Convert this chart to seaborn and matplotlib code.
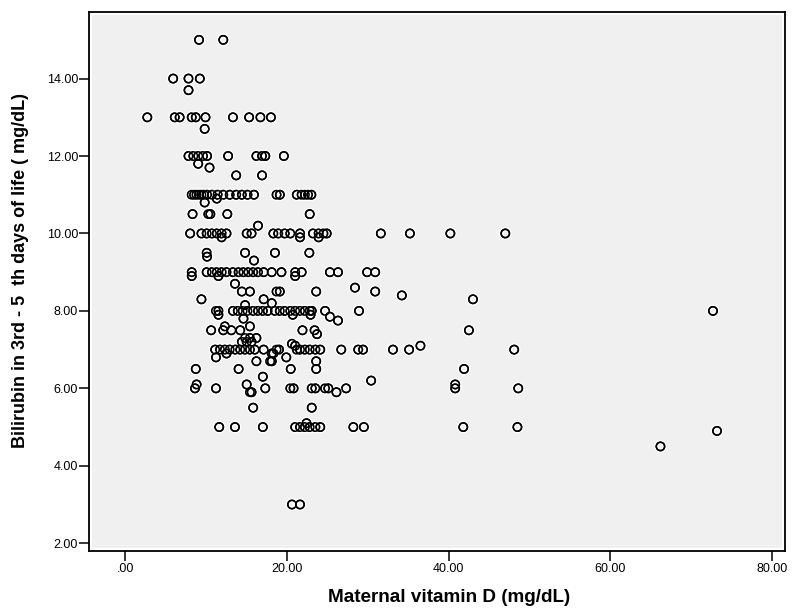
import matplotlib
matplotlib.use("Agg")
import matplotlib.pyplot as plt
import matplotlib.patheffects as pe
from matplotlib.patches import Rectangle
from matplotlib import font_manager
import pandas as pd
import seaborn as sns

# valori: vitamina D materna (x) e bilirubina (y)
vit_d = [
    9.1, 12.1,
    5.9, 7.8, 9.2, 7.8,
    2.7, 6.1, 6.7, 8.2, 8.7, 9.9, 13.3, 15.3, 16.7, 18.0, 9.8,
    7.8, 8.4, 9.0, 9.6, 10.1, 12.7, 16.2, 16.9, 17.3, 19.6,
    9.0, 10.4, 13.7, 16.9,
    8.2, 8.5, 8.8, 9.1, 9.4, 9.7, 10.1, 10.7, 11.4, 12.1, 12.9, 13.7, 14.4, 15.1, 15.9,
    18.7, 19.1, 21.2, 21.8, 22.2, 22.6, 23.0,
    9.8, 11.3,
    8.3, 10.25, 10.5, 12.6, 22.8, 16.4,
    8.0, 9.4, 10.05, 10.7, 11.3, 11.9, 12.5, 15.0, 15.6, 18.3, 18.9, 19.7, 20.4, 21.6,
    23.2, 23.9, 24.5, 24.9, 31.6, 35.2, 40.2, 47.0,
    11.9, 21.6, 23.9,
    10.05, 14.8, 18.5, 22.75, 10.1, 15.9,
    8.2, 10.05, 10.7, 11.3, 11.9, 12.5, 13.3, 14.0, 14.6, 15.2, 15.8, 16.4, 17.1, 18.1,
    19.3, 21.0, 21.8, 25.3, 26.3, 29.9, 30.9,
    8.2, 11.5, 21.0,
    13.55, 28.4,
    14.4, 15.4, 18.7, 19.1, 23.6, 30.9, 34.2,
    9.4, 17.1, 43.0, 18.1, 14.8,
    11.2, 11.5, 13.3, 13.9, 14.5, 15.1, 15.8, 16.4, 17.0, 17.6, 18.5, 19.1, 19.7, 20.4,
    21.0, 21.6, 22.2, 22.8, 23.05, 24.7, 28.9, 72.7,
    11.5, 20.7, 22.9, 25.3,
    14.6, 26.3,
    12.3, 15.4,
    10.6, 12.1, 13.1, 14.2, 21.9, 23.4, 42.5, 23.7,
    14.8, 15.4, 16.2, 14.4, 15.0, 15.6, 20.6, 21.0, 36.5,
    11.1, 11.7, 12.3, 12.9, 13.6, 14.2, 14.8, 15.4, 16.0, 17.1, 18.7, 19.0, 21.2, 21.6,
    22.2, 22.8, 23.5, 24.1, 26.7, 28.8, 29.4, 33.1, 35.1, 48.1,
    18.3, 12.5, 18.1,
    11.2, 19.9,
    16.2, 17.9, 18.1, 23.6,
    8.7, 14.0, 20.45, 23.6, 41.9,
    17.0, 30.4,
    8.8, 15.0, 40.8,
    8.6, 11.2, 17.3, 20.4, 20.8, 23.05, 23.5, 24.7, 25.1, 27.3, 40.8, 48.6,
    15.4, 15.6, 26.1,
    15.8, 23.05, 22.4,
    11.6, 13.55, 17.0, 21.0, 21.6, 22.2, 22.8, 23.5, 24.1, 28.2, 29.5, 41.8, 48.5,
    73.2, 66.2,
    20.6, 21.6,
]
bilirubin = [
    15, 15,
    14, 14, 14, 13.7,
    13, 13, 13, 13, 13, 13, 13, 13, 13, 13, 12.7,
    12, 12, 12, 12, 12, 12, 12, 12, 12, 12,
    11.8, 11.7, 11.5, 11.5,
    11, 11, 11, 11, 11, 11, 11, 11, 11, 11, 11, 11, 11, 11, 11,
    11, 11, 11, 11, 11, 11, 11,
    10.8, 10.9,
    10.5, 10.5, 10.5, 10.5, 10.5, 10.2,
    10, 10, 10, 10, 10, 10, 10, 10, 10, 10, 10, 10, 10, 10,
    10, 10, 10, 10, 10, 10, 10, 10,
    9.9, 9.9, 9.9,
    9.5, 9.5, 9.5, 9.5, 9.4, 9.3,
    9, 9, 9, 9, 9, 9, 9, 9, 9, 9, 9, 9, 9, 9,
    9, 9, 9, 9, 9, 9, 9,
    8.9, 8.9, 8.9,
    8.7, 8.6,
    8.5, 8.5, 8.5, 8.5, 8.5, 8.5, 8.4,
    8.3, 8.3, 8.3, 8.2, 8.15,
    8, 8, 8, 8, 8, 8, 8, 8, 8, 8, 8, 8, 8, 8,
    8, 8, 8, 8, 8, 8, 8, 8,
    7.9, 7.9, 7.9, 7.85,
    7.8, 7.75,
    7.6, 7.6,
    7.5, 7.5, 7.5, 7.5, 7.5, 7.5, 7.5, 7.4,
    7.3, 7.3, 7.3, 7.2, 7.2, 7.2, 7.15, 7.1, 7.1,
    7, 7, 7, 7, 7, 7, 7, 7, 7, 7, 7, 7, 7, 7,
    7, 7, 7, 7, 7, 7, 7, 7, 7, 7,
    6.9, 6.9, 6.9,
    6.8, 6.8,
    6.7, 6.7, 6.7, 6.7,
    6.5, 6.5, 6.5, 6.5, 6.5,
    6.3, 6.2,
    6.1, 6.1, 6.1,
    6, 6, 6, 6, 6, 6, 6, 6, 6, 6, 6, 6,
    5.9, 5.9, 5.9,
    5.5, 5.5, 5.1,
    5, 5, 5, 5, 5, 5, 5, 5, 5, 5, 5, 5, 5,
    4.9, 4.5,
    3, 3,
]

x_ticks = [0, 20, 40, 60, 80]
x_tick_labels = ['.00', '20.00', '40.00', '60.00', '80.00']
y_ticks = [2, 4, 6, 8, 10, 12, 14]
y_tick_labels = ['2.00', '4.00', '6.00', '8.00', '10.00', '12.00', '14.00']

df = pd.DataFrame({'vitD': vit_d, 'bili': bilirubin})

sns.set_style('white')
plt.rcParams['font.family'] = ['Liberation Sans', 'DejaVu Sans']

names = {f.name for f in font_manager.fontManager.ttflist}
if 'Liberation Sans Narrow' in names:
    label_font = ['Liberation Sans Narrow', 'Liberation Sans']
    xlabel_size, ylabel_size = 15, 15
else:
    label_font = ['Liberation Sans', 'DejaVu Sans']
    xlabel_size, ylabel_size = 13.6, 13

fig = plt.figure(figsize=(7.95, 6.08), dpi=100)
ax = fig.add_axes([0.1123, 0.0938, 0.875, 0.8865])
ax.set_facecolor('white')

# sfondo grigio con bordino bianco come in SPSS
ax.add_patch(Rectangle((0.0043, 0.0056), 1 - 2 * 0.0043, 1 - 2 * 0.0056,
                       transform=ax.transAxes, facecolor='#F0F0F0',
                       edgecolor='none', zorder=0))

sns.scatterplot(data=df, x='vitD', y='bili', ax=ax, s=36,
                facecolors='none', edgecolor='black', linewidth=1.1,
                zorder=3, legend=False)
for coll in ax.collections:
    coll.set_path_effects([pe.withStroke(linewidth=3.2, foreground='white'), pe.Normal()])

ax.set_xlim(-4.48, 81.6)
ax.set_ylim(1.80, 15.72)

ax.set_xticks(x_ticks)
ax.set_xticklabels(x_tick_labels)
ax.set_yticks(y_ticks)
ax.set_yticklabels(y_tick_labels)
ax.tick_params(axis='both', direction='out', length=7, width=1.1, color='black',
               labelsize=9, labelcolor='black', bottom=True, left=True)
ax.tick_params(axis='x', pad=2)
ax.tick_params(axis='y', pad=1)

for s in ax.spines.values():
    s.set_color('black')
    s.set_linewidth(1.3)

ax.set_xlabel('')
ax.set_ylabel('')
fig.text(449 / 795, 1 - 597 / 608, 'Maternal vitamin D (mg/dL)', ha='center', va='center',
         fontsize=xlabel_size, fontweight='bold', family=label_font, color='black')
fig.text(21 / 795, 1 - 270 / 608, 'Bilirubin in 3rd - 5  th days of life ( mg/dL)',
         ha='center', va='center', rotation=90,
         fontsize=ylabel_size, fontweight='bold', family=label_font, color='black')

fig.savefig('out.png', dpi=100, facecolor='white')
